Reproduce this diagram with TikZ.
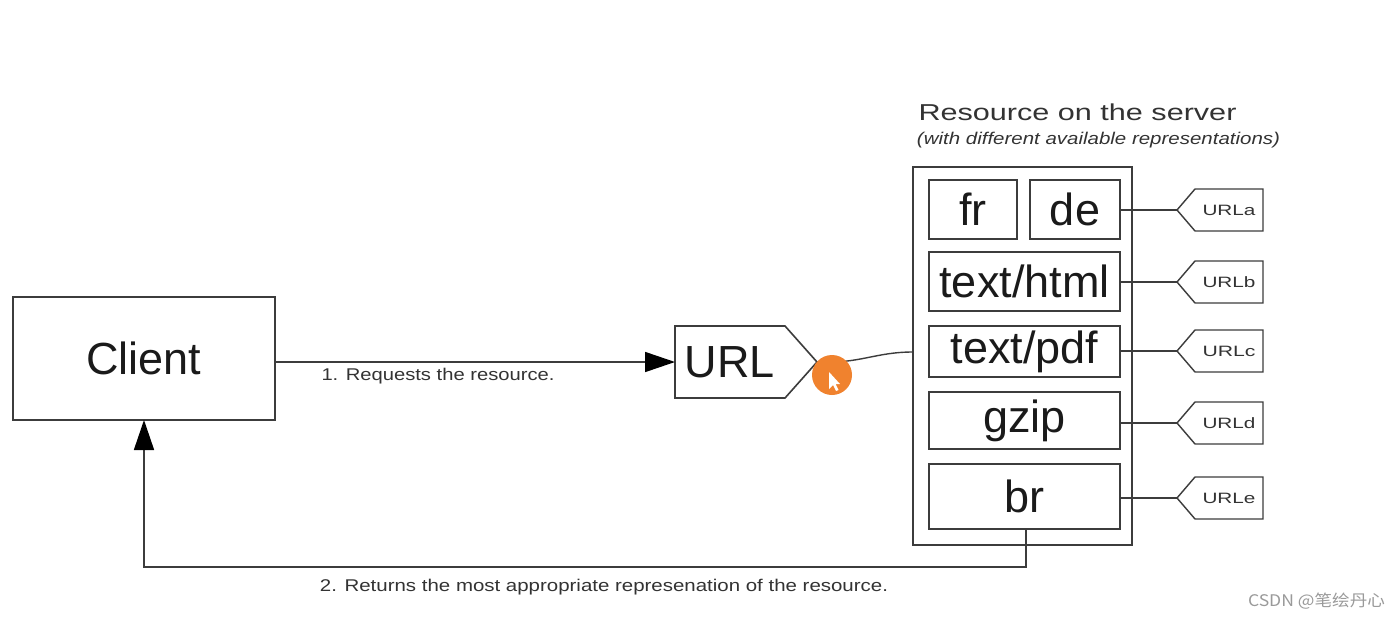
\documentclass[tikz,border=0pt]{standalone}
\usepackage{fontspec}
\setmainfont{Liberation Sans}
\newfontfamily\cjkfont{Noto Sans CJK SC}
\usepackage{graphicx}
\usetikzlibrary{arrows.meta,calc}
\definecolor{linec}{HTML}{3C3C3C}
\definecolor{txtc}{HTML}{1A1A1A}
\definecolor{smallc}{HTML}{333333}
\definecolor{orangec}{HTML}{F0822E}
\definecolor{wmc}{HTML}{9A9A9A}
\begin{document}
\begin{tikzpicture}[x=1pt,y=-1pt,
  box/.style={draw=linec, line width=1.6pt, inner sep=0pt, outer sep=0pt, text=txtc, font=\fontsize{45}{54}\selectfont},
  tagbox/.style={inner sep=0pt, outer sep=0pt, minimum width=68pt, minimum height=42pt, text=smallc, font=\fontsize{15}{18}\selectfont},
  conn/.style={draw=linec, line width=1.6pt},
  thinln/.style={draw=linec, line width=1.4pt},
  arr/.style={conn, -{Triangle[length=30pt,width=20pt,color=black]}},
  lbl/.style={inner sep=0pt, text=smallc, font=\fontsize{17}{20}\selectfont}]

\useasboundingbox[fill=white] (0,0) rectangle (1400,619);

% Client
\node[box, minimum width=262pt, minimum height=123pt] (client) at (144,358.5) {Client};

% URL
\node[box, draw=none, minimum width=110pt, minimum height=72pt] (url) at (730,362) {URL};
\coordinate (urltip) at ($(url.east)+(32,0)$);
\draw[conn] (url.north west) -- (url.north east) -- (urltip) -- (url.south east) -- (url.south west) -- cycle;

% Server
\node[inner sep=0pt, text=smallc] (title) at (1077.5,112)
  {\resizebox{318pt}{\height}{\fontsize{23}{28}\selectfont Resource on the server}};
\node[inner sep=0pt, text=smallc] (subtitle) at (1098.5,140)
  {\resizebox{363pt}{\height}{\fontsize{17}{20}\selectfont\itshape (with different available representations)}};
\node[box, minimum width=219pt, minimum height=378pt] (srv) at (1022.5,356) {};

\node[box, minimum width=88pt, minimum height=59pt] (fr) at (973,209.5) {fr};
\node[box, minimum width=90pt, minimum height=59pt] (de) at (1075,209.5) {de};
\node[box, minimum width=191pt, minimum height=59pt] (html) at (1024.5,281.5) {text/html};
\node[box, minimum width=191pt, minimum height=51pt] (pdf) at (1024.5,351.5) {text/pdf};
\node[box, minimum width=191pt, minimum height=57pt] (gzip) at (1024.5,420.5) {gzip};
\node[box, minimum width=191pt, minimum height=65pt] (br) at (1024.5,496.5) {br};

% URL tags
\foreach \n/\y/\t in {ua/210/URLa, ub/282/URLb, uc/351/URLc, ud/423/URLd, ue/498/URLe}{
  \node[tagbox] (\n) at (1229,\y) {\resizebox{53pt}{\height}{\t}};
  \coordinate (\n-tip) at ($(\n.west)+(-18,0)$);
  \draw[thinln] (\n.north west) -- (\n.north east) -- (\n.south east) -- (\n.south west) -- (\n-tip) -- cycle;
}
\draw[thinln] (ua-tip -| de.east) -- (ua-tip);
\draw[thinln] (ub-tip -| html.east) -- (ub-tip);
\draw[thinln] (uc-tip -| pdf.east) -- (uc-tip);
\draw[thinln] (ud-tip -| gzip.east) -- (ud-tip);
\draw[thinln] (ue-tip -| br.east) -- (ue-tip);

% URL to server
\draw[thinln] (urltip) .. controls (860,364) and (875,352) .. ([yshift=4pt]srv.west);

% cursor highlight
\fill[orangec] (832,375) circle (20pt);
\fill[white] (829,372) -- (829,389) -- (833,385) -- (836,391) -- (838.5,390) -- (835.5,384) -- (840,384) -- cycle;

% arrows
\draw[arr] (client.east |- url.west) -- (url.west);
\node[lbl] (l1) at (438,376) {\resizebox{233pt}{\height}{1. Requests the resource.}};

\draw[arr] ([xshift=1.5pt]br.south) -- ++(0,38) -| (client.south);
\node[lbl] (l2) at (604,587) {\resizebox{568pt}{\height}{2. Returns the most appropriate represenation of the resource.}};

% watermark
\node[inner sep=0pt, text=wmc] (wm) at (1316.5,601)
  {\resizebox{137pt}{\height}{\cjkfont\fontsize{16}{19}\selectfont CSDN @笔绘丹心}};
\end{tikzpicture}
\end{document}
